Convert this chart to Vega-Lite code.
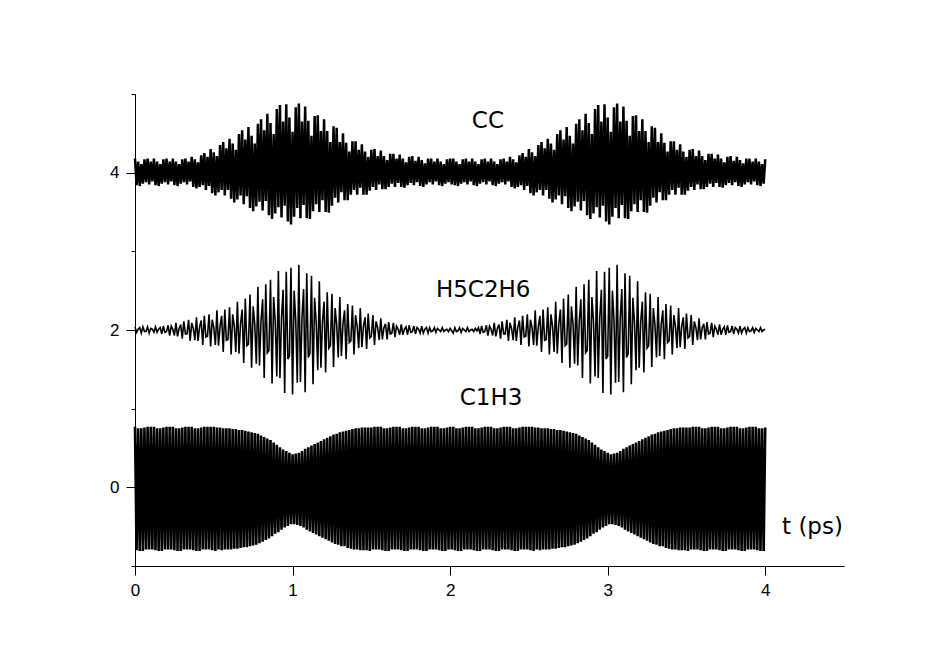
{
"$schema": "https://vega.github.io/schema/vega-lite/v6.json",
"width": 709, "height": 472,
"autosize": {"type": "none"},
"padding": {"left": 135, "top": 94, "right": 87, "bottom": 101},
"background": "white",
"config": {"view": {"stroke": null}, "axis": {"domainColor": "black", "tickColor": "black", "labelColor": "black", "grid": false, "labelFont": "Liberation Sans", "labelFontSize": 17, "title": null, "domainWidth": 1, "tickWidth": 1}},
"datasets": {
"a": [
{"t":0,"cc":4.18,"c":0.77,"h":2.04},{"t":0.01,"cc":3.84,"c":-0.80,"h":1.97},{"t":0.02,"cc":4.14,"c":0.75,"h":2.01},{"t":0.03,"cc":3.83,"c":-0.81,"h":2.03},{"t":0.04,"cc":4.11,"c":0.75,"h":1.96},{"t":0.05,"cc":3.86,"c":-0.81,"h":2.04},{"t":0.06,"cc":4.17,"c":0.76,"h":1.98},{"t":0.07,"cc":3.88,"c":-0.79,"h":1.98},{"t":0.08,"cc":4.18,"c":0.77,"h":2.04},{"t":0.09,"cc":3.85,"c":-0.79,"h":1.96},{"t":0.1,"cc":4.14,"c":0.77,"h":2.02},{"t":0.11,"cc":3.89,"c":-0.79,"h":2.01},
{"t":0.12,"cc":4.18,"c":0.77,"h":1.97},{"t":0.13,"cc":3.84,"c":-0.80,"h":2.04},{"t":0.14,"cc":4.14,"c":0.75,"h":1.97},{"t":0.15,"cc":3.83,"c":-0.81,"h":2.01},{"t":0.16,"cc":4.11,"c":0.75,"h":2.03},{"t":0.17,"cc":3.86,"c":-0.81,"h":1.95},{"t":0.18,"cc":4.17,"c":0.76,"h":2.05},{"t":0.19,"cc":3.88,"c":-0.79,"h":1.97},{"t":0.2,"cc":4.18,"c":0.77,"h":1.98},{"t":0.21,"cc":3.85,"c":-0.79,"h":2.06},{"t":0.22,"cc":4.14,"c":0.77,"h":1.93},{"t":0.23,"cc":3.89,"c":-0.79,"h":2.05},
{"t":0.24,"cc":4.18,"c":0.77,"h":2.01},{"t":0.25,"cc":3.84,"c":-0.80,"h":1.93},{"t":0.26,"cc":4.14,"c":0.75,"h":2.09},{"t":0.27,"cc":3.83,"c":-0.81,"h":1.92},{"t":0.28,"cc":4.11,"c":0.75,"h":2.02},{"t":0.29,"cc":3.86,"c":-0.81,"h":2.07},{"t":0.3,"cc":4.17,"c":0.76,"h":1.89},{"t":0.31,"cc":3.88,"c":-0.79,"h":2.11},{"t":0.32,"cc":4.18,"c":0.77,"h":1.95},{"t":0.33,"cc":3.85,"c":-0.79,"h":1.95},{"t":0.34,"cc":4.14,"c":0.77,"h":2.13},{"t":0.35,"cc":3.89,"c":-0.79,"h":1.86},
{"t":0.36,"cc":4.20,"c":0.77,"h":2.09},{"t":0.37,"cc":3.82,"c":-0.80,"h":2.02},{"t":0.38,"cc":4.17,"c":0.75,"h":1.87},{"t":0.39,"cc":3.80,"c":-0.81,"h":2.16},{"t":0.4,"cc":4.13,"c":0.75,"h":1.86},{"t":0.41,"cc":3.82,"c":-0.81,"h":2.04},{"t":0.42,"cc":4.22,"c":0.76,"h":2.12},{"t":0.43,"cc":3.84,"c":-0.79,"h":1.81},{"t":0.44,"cc":4.25,"c":0.77,"h":2.18},{"t":0.45,"cc":3.78,"c":-0.79,"h":1.91},{"t":0.46,"cc":4.20,"c":0.77,"h":1.92},{"t":0.47,"cc":3.83,"c":-0.79,"h":2.20},
{"t":0.48,"cc":4.30,"c":0.77,"h":1.79},{"t":0.49,"cc":3.74,"c":-0.80,"h":2.13},{"t":0.5,"cc":4.26,"c":0.77,"h":2.03},{"t":0.51,"cc":3.71,"c":-0.81,"h":1.81},{"t":0.52,"cc":4.21,"c":0.76,"h":2.25},{"t":0.53,"cc":3.75,"c":-0.79,"h":1.80},{"t":0.54,"cc":4.35,"c":0.76,"h":2.05},{"t":0.55,"cc":3.78,"c":-0.80,"h":2.18},{"t":0.56,"cc":4.39,"c":0.75,"h":1.72},{"t":0.57,"cc":3.71,"c":-0.79,"h":2.26},{"t":0.58,"cc":4.31,"c":0.75,"h":1.87},{"t":0.59,"cc":3.78,"c":-0.79,"h":1.88},
{"t":0.6,"cc":4.43,"c":0.75,"h":2.29},{"t":0.61,"cc":3.67,"c":-0.79,"h":1.69},{"t":0.62,"cc":4.37,"c":0.74,"h":2.20},{"t":0.63,"cc":3.62,"c":-0.78,"h":2.05},{"t":0.64,"cc":4.29,"c":0.74,"h":1.72},{"t":0.65,"cc":3.66,"c":-0.78,"h":2.36},{"t":0.66,"cc":4.49,"c":0.73,"h":1.70},{"t":0.67,"cc":3.71,"c":-0.77,"h":2.08},{"t":0.68,"cc":4.54,"c":0.73,"h":2.26},{"t":0.69,"cc":3.60,"c":-0.76,"h":1.58},{"t":0.7,"cc":4.42,"c":0.72,"h":2.40},{"t":0.71,"cc":3.70,"c":-0.76,"h":1.80},
{"t":0.72,"cc":4.58,"c":0.71,"h":1.82},{"t":0.73,"cc":3.55,"c":-0.75,"h":2.45},{"t":0.74,"cc":4.47,"c":0.70,"h":1.52},{"t":0.75,"cc":3.51,"c":-0.74,"h":2.30},{"t":0.76,"cc":4.37,"c":0.69,"h":2.08},{"t":0.77,"cc":3.57,"c":-0.73,"h":1.57},{"t":0.78,"cc":4.62,"c":0.68,"h":2.55},{"t":0.79,"cc":3.63,"c":-0.71,"h":1.55},{"t":0.8,"cc":4.68,"c":0.66,"h":2.12},{"t":0.81,"cc":3.52,"c":-0.69,"h":2.39},{"t":0.82,"cc":4.54,"c":0.64,"h":1.39},{"t":0.83,"cc":3.64,"c":-0.67,"h":2.58},
{"t":0.84,"cc":4.75,"c":0.62,"h":1.71},{"t":0.85,"cc":3.46,"c":-0.65,"h":1.74},{"t":0.86,"cc":4.63,"c":0.60,"h":2.64},{"t":0.87,"cc":3.41,"c":-0.62,"h":1.32},{"t":0.88,"cc":4.49,"c":0.57,"h":2.42},{"t":0.89,"cc":3.48,"c":-0.59,"h":2.11},{"t":0.9,"cc":4.81,"c":0.54,"h":1.41},{"t":0.91,"cc":3.56,"c":-0.57,"h":2.75},{"t":0.92,"cc":4.86,"c":0.51,"h":1.39},{"t":0.93,"cc":3.43,"c":-0.54,"h":2.16},{"t":0.94,"cc":4.65,"c":0.48,"h":2.51},{"t":0.95,"cc":3.58,"c":-0.51,"h":1.20},
{"t":0.96,"cc":4.87,"c":0.46,"h":2.74},{"t":0.97,"cc":3.38,"c":-0.49,"h":1.63},{"t":0.98,"cc":4.70,"c":0.44,"h":1.67},{"t":0.99,"cc":3.34,"c":-0.47,"h":2.79},{"t":1,"cc":4.52,"c":0.42,"h":1.18},{"t":1.01,"cc":3.44,"c":-0.47,"h":2.50},{"t":1.02,"cc":4.83,"c":0.43,"h":2.13},{"t":1.03,"cc":3.55,"c":-0.48,"h":1.33},{"t":1.04,"cc":4.88,"c":0.44,"h":2.83},{"t":1.05,"cc":3.42,"c":-0.49,"h":1.34},{"t":1.06,"cc":4.65,"c":0.46,"h":2.16},{"t":1.07,"cc":3.59,"c":-0.51,"h":2.52},
{"t":1.08,"cc":4.84,"c":0.49,"h":1.21},{"t":1.09,"cc":3.42,"c":-0.54,"h":2.72},{"t":1.1,"cc":4.66,"c":0.51,"h":1.65},{"t":1.11,"cc":3.41,"c":-0.56,"h":1.70},{"t":1.12,"cc":4.47,"c":0.53,"h":2.69},{"t":1.13,"cc":3.51,"c":-0.58,"h":1.31},{"t":1.14,"cc":4.72,"c":0.55,"h":2.41},{"t":1.15,"cc":3.60,"c":-0.60,"h":2.10},{"t":1.16,"cc":4.73,"c":0.57,"h":1.49},{"t":1.17,"cc":3.50,"c":-0.62,"h":2.62},{"t":1.18,"cc":4.53,"c":0.59,"h":1.52},{"t":1.19,"cc":3.65,"c":-0.64,"h":2.11},
{"t":1.2,"cc":4.68,"c":0.61,"h":2.36},{"t":1.21,"cc":3.50,"c":-0.66,"h":1.46},{"t":1.22,"cc":4.53,"c":0.63,"h":2.48},{"t":1.23,"cc":3.49,"c":-0.68,"h":1.77},{"t":1.24,"cc":4.39,"c":0.65,"h":1.80},{"t":1.25,"cc":3.58,"c":-0.70,"h":2.46},{"t":1.26,"cc":4.59,"c":0.67,"h":1.53},{"t":1.27,"cc":3.68,"c":-0.72,"h":2.28},{"t":1.28,"cc":4.57,"c":0.68,"h":2.07},{"t":1.29,"cc":3.62,"c":-0.73,"h":1.65},{"t":1.3,"cc":4.39,"c":0.70,"h":2.42},{"t":1.31,"cc":3.75,"c":-0.75,"h":1.67},
{"t":1.32,"cc":4.50,"c":0.71,"h":2.08},{"t":1.33,"cc":3.65,"c":-0.75,"h":2.25},{"t":1.34,"cc":4.38,"c":0.72,"h":1.63},{"t":1.35,"cc":3.65,"c":-0.77,"h":2.33},{"t":1.36,"cc":4.27,"c":0.73,"h":1.84},{"t":1.37,"cc":3.72,"c":-0.78,"h":1.86},{"t":1.38,"cc":4.40,"c":0.74,"h":2.31},{"t":1.39,"cc":3.78,"c":-0.79,"h":1.69},{"t":1.4,"cc":4.40,"c":0.75,"h":2.19},{"t":1.41,"cc":3.72,"c":-0.79,"h":2.05},{"t":1.42,"cc":4.29,"c":0.75,"h":1.77},{"t":1.43,"cc":3.81,"c":-0.80,"h":2.28},
{"t":1.44,"cc":4.36,"c":0.76,"h":1.78},{"t":1.45,"cc":3.72,"c":-0.80,"h":2.05},{"t":1.46,"cc":4.27,"c":0.76,"h":2.16},{"t":1.47,"cc":3.72,"c":-0.80,"h":1.76},{"t":1.48,"cc":4.20,"c":0.76,"h":2.21},{"t":1.49,"cc":3.77,"c":-0.81,"h":1.90},{"t":1.5,"cc":4.29,"c":0.76,"h":1.92},{"t":1.51,"cc":3.82,"c":-0.79,"h":2.19},{"t":1.52,"cc":4.30,"c":0.77,"h":1.81},{"t":1.53,"cc":3.78,"c":-0.79,"h":2.11},{"t":1.54,"cc":4.21,"c":0.77,"h":2.03},{"t":1.55,"cc":3.85,"c":-0.79,"h":1.87},
{"t":1.56,"cc":4.28,"c":0.77,"h":2.15},{"t":1.57,"cc":3.79,"c":-0.80,"h":1.88},{"t":1.58,"cc":4.21,"c":0.75,"h":2.03},{"t":1.59,"cc":3.79,"c":-0.81,"h":2.08},{"t":1.6,"cc":4.16,"c":0.75,"h":1.88},{"t":1.61,"cc":3.82,"c":-0.81,"h":2.10},{"t":1.62,"cc":4.24,"c":0.76,"h":1.95},{"t":1.63,"cc":3.86,"c":-0.79,"h":1.96},{"t":1.64,"cc":4.24,"c":0.77,"h":2.09},{"t":1.65,"cc":3.82,"c":-0.79,"h":1.91},{"t":1.66,"cc":4.18,"c":0.77,"h":2.05},{"t":1.67,"cc":3.87,"c":-0.79,"h":2.01},
{"t":1.68,"cc":4.23,"c":0.77,"h":1.94},{"t":1.69,"cc":3.82,"c":-0.80,"h":2.07},{"t":1.7,"cc":4.18,"c":0.75,"h":1.94},{"t":1.71,"cc":3.81,"c":-0.81,"h":2.01},{"t":1.72,"cc":4.13,"c":0.75,"h":2.04},{"t":1.73,"cc":3.84,"c":-0.81,"h":1.94},{"t":1.74,"cc":4.20,"c":0.76,"h":2.06},{"t":1.75,"cc":3.87,"c":-0.79,"h":1.97},{"t":1.76,"cc":4.21,"c":0.77,"h":1.98},{"t":1.77,"cc":3.84,"c":-0.79,"h":2.05},{"t":1.78,"cc":4.15,"c":0.77,"h":1.95},{"t":1.79,"cc":3.88,"c":-0.79,"h":2.03},
{"t":1.8,"cc":4.20,"c":0.77,"h":2.01},{"t":1.81,"cc":3.83,"c":-0.80,"h":1.96},{"t":1.82,"cc":4.16,"c":0.75,"h":2.05},{"t":1.83,"cc":3.82,"c":-0.81,"h":1.96},{"t":1.84,"cc":4.12,"c":0.75,"h":2.01},{"t":1.85,"cc":3.85,"c":-0.81,"h":2.03},{"t":1.86,"cc":4.18,"c":0.76,"h":1.96},{"t":1.87,"cc":3.88,"c":-0.79,"h":2.03},{"t":1.88,"cc":4.18,"c":0.77,"h":1.98},{"t":1.89,"cc":3.85,"c":-0.79,"h":1.99},{"t":1.9,"cc":4.14,"c":0.77,"h":2.03},{"t":1.91,"cc":3.89,"c":-0.79,"h":1.97},
{"t":1.92,"cc":4.18,"c":0.77,"h":2.02},{"t":1.93,"cc":3.84,"c":-0.80,"h":2.00},{"t":1.94,"cc":4.14,"c":0.75,"h":1.98},{"t":1.95,"cc":3.83,"c":-0.81,"h":2.03},{"t":1.96,"cc":4.11,"c":0.75,"h":1.98},{"t":1.97,"cc":3.86,"c":-0.81,"h":2.00},{"t":1.98,"cc":4.17,"c":0.76,"h":2.01},{"t":1.99,"cc":3.88,"c":-0.79,"h":1.98},{"t":2,"cc":4.18,"c":0.77,"h":2.02},{"t":2.01,"cc":3.85,"c":-0.79,"h":1.99},
{"t":2.02,"cc":4.18,"c":0.77,"h":1.96},{"t":2.03,"cc":3.84,"c":-0.80,"h":2.03},{"t":2.04,"cc":4.14,"c":0.75,"h":1.98},{"t":2.05,"cc":3.83,"c":-0.81,"h":1.99},{"t":2.06,"cc":4.11,"c":0.75,"h":2.03},{"t":2.07,"cc":3.86,"c":-0.81,"h":1.97},{"t":2.08,"cc":4.17,"c":0.76,"h":2.02},{"t":2.09,"cc":3.88,"c":-0.79,"h":2.00},{"t":2.1,"cc":4.18,"c":0.77,"h":1.98},{"t":2.11,"cc":3.85,"c":-0.79,"h":2.03},{"t":2.12,"cc":4.14,"c":0.77,"h":1.98},{"t":2.13,"cc":3.89,"c":-0.79,"h":2.00},
{"t":2.14,"cc":4.18,"c":0.77,"h":2.01},{"t":2.15,"cc":3.84,"c":-0.80,"h":1.98},{"t":2.16,"cc":4.14,"c":0.75,"h":2.02},{"t":2.17,"cc":3.83,"c":-0.81,"h":1.99},{"t":2.18,"cc":4.11,"c":0.75,"h":2.03},{"t":2.19,"cc":3.86,"c":-0.81,"h":1.95},{"t":2.2,"cc":4.17,"c":0.76,"h":2.05},{"t":2.21,"cc":3.88,"c":-0.79,"h":1.97},{"t":2.22,"cc":4.18,"c":0.77,"h":1.98},{"t":2.23,"cc":3.85,"c":-0.79,"h":2.06},{"t":2.24,"cc":4.14,"c":0.77,"h":1.93},{"t":2.25,"cc":3.89,"c":-0.79,"h":2.05},
{"t":2.26,"cc":4.18,"c":0.77,"h":2.01},{"t":2.27,"cc":3.84,"c":-0.80,"h":1.93},{"t":2.28,"cc":4.14,"c":0.75,"h":2.09},{"t":2.29,"cc":3.83,"c":-0.81,"h":1.92},{"t":2.3,"cc":4.11,"c":0.75,"h":2.02},{"t":2.31,"cc":3.86,"c":-0.81,"h":2.07},{"t":2.32,"cc":4.17,"c":0.76,"h":1.89},{"t":2.33,"cc":3.88,"c":-0.79,"h":2.11},{"t":2.34,"cc":4.18,"c":0.77,"h":1.95},{"t":2.35,"cc":3.85,"c":-0.79,"h":1.95},{"t":2.36,"cc":4.14,"c":0.77,"h":2.13},{"t":2.37,"cc":3.89,"c":-0.79,"h":1.86},
{"t":2.38,"cc":4.20,"c":0.77,"h":2.09},{"t":2.39,"cc":3.82,"c":-0.80,"h":2.02},{"t":2.4,"cc":4.17,"c":0.75,"h":1.87},{"t":2.41,"cc":3.80,"c":-0.81,"h":2.16},{"t":2.42,"cc":4.13,"c":0.75,"h":1.86},{"t":2.43,"cc":3.82,"c":-0.81,"h":2.04},{"t":2.44,"cc":4.22,"c":0.76,"h":2.12},{"t":2.45,"cc":3.84,"c":-0.79,"h":1.81},{"t":2.46,"cc":4.25,"c":0.77,"h":2.18},{"t":2.47,"cc":3.78,"c":-0.79,"h":1.91},{"t":2.48,"cc":4.20,"c":0.77,"h":1.92},{"t":2.49,"cc":3.83,"c":-0.79,"h":2.20},
{"t":2.5,"cc":4.30,"c":0.77,"h":1.79},{"t":2.51,"cc":3.74,"c":-0.80,"h":2.13},{"t":2.52,"cc":4.26,"c":0.77,"h":2.03},{"t":2.53,"cc":3.71,"c":-0.81,"h":1.81},{"t":2.54,"cc":4.21,"c":0.76,"h":2.25},{"t":2.55,"cc":3.75,"c":-0.79,"h":1.80},{"t":2.56,"cc":4.35,"c":0.76,"h":2.05},{"t":2.57,"cc":3.78,"c":-0.80,"h":2.18},{"t":2.58,"cc":4.39,"c":0.75,"h":1.72},{"t":2.59,"cc":3.71,"c":-0.79,"h":2.26},{"t":2.6,"cc":4.31,"c":0.75,"h":1.87},{"t":2.61,"cc":3.78,"c":-0.79,"h":1.88},
{"t":2.62,"cc":4.43,"c":0.75,"h":2.29},{"t":2.63,"cc":3.67,"c":-0.79,"h":1.69},{"t":2.64,"cc":4.37,"c":0.74,"h":2.20},{"t":2.65,"cc":3.62,"c":-0.78,"h":2.05},{"t":2.66,"cc":4.29,"c":0.74,"h":1.72},{"t":2.67,"cc":3.66,"c":-0.78,"h":2.36},{"t":2.68,"cc":4.49,"c":0.73,"h":1.70},{"t":2.69,"cc":3.71,"c":-0.77,"h":2.08},{"t":2.7,"cc":4.54,"c":0.73,"h":2.26},{"t":2.71,"cc":3.60,"c":-0.76,"h":1.58},{"t":2.72,"cc":4.42,"c":0.72,"h":2.40},{"t":2.73,"cc":3.70,"c":-0.76,"h":1.80},
{"t":2.74,"cc":4.58,"c":0.71,"h":1.82},{"t":2.75,"cc":3.55,"c":-0.75,"h":2.45},{"t":2.76,"cc":4.47,"c":0.70,"h":1.52},{"t":2.77,"cc":3.51,"c":-0.74,"h":2.30},{"t":2.78,"cc":4.37,"c":0.69,"h":2.08},{"t":2.79,"cc":3.57,"c":-0.73,"h":1.57},{"t":2.8,"cc":4.62,"c":0.68,"h":2.55},{"t":2.81,"cc":3.63,"c":-0.71,"h":1.55},{"t":2.82,"cc":4.68,"c":0.66,"h":2.12},{"t":2.83,"cc":3.52,"c":-0.69,"h":2.39},{"t":2.84,"cc":4.54,"c":0.64,"h":1.39},{"t":2.85,"cc":3.64,"c":-0.67,"h":2.58},
{"t":2.86,"cc":4.75,"c":0.62,"h":1.71},{"t":2.87,"cc":3.46,"c":-0.65,"h":1.74},{"t":2.88,"cc":4.63,"c":0.60,"h":2.64},{"t":2.89,"cc":3.41,"c":-0.62,"h":1.32},{"t":2.9,"cc":4.49,"c":0.57,"h":2.42},{"t":2.91,"cc":3.48,"c":-0.59,"h":2.11},{"t":2.92,"cc":4.81,"c":0.54,"h":1.41},{"t":2.93,"cc":3.56,"c":-0.57,"h":2.75},{"t":2.94,"cc":4.86,"c":0.51,"h":1.39},{"t":2.95,"cc":3.43,"c":-0.54,"h":2.16},{"t":2.96,"cc":4.65,"c":0.48,"h":2.51},{"t":2.97,"cc":3.58,"c":-0.51,"h":1.20},
{"t":2.98,"cc":4.87,"c":0.46,"h":2.74},{"t":2.99,"cc":3.38,"c":-0.49,"h":1.63},{"t":3,"cc":4.70,"c":0.44,"h":1.67},{"t":3.01,"cc":3.34,"c":-0.47,"h":2.79},{"t":3.02,"cc":4.52,"c":0.42,"h":1.18},{"t":3.03,"cc":3.44,"c":-0.47,"h":2.50},{"t":3.04,"cc":4.83,"c":0.43,"h":2.13},{"t":3.05,"cc":3.55,"c":-0.48,"h":1.33},{"t":3.06,"cc":4.88,"c":0.44,"h":2.83},{"t":3.07,"cc":3.42,"c":-0.49,"h":1.34},{"t":3.08,"cc":4.65,"c":0.46,"h":2.16},{"t":3.09,"cc":3.59,"c":-0.51,"h":2.52},
{"t":3.1,"cc":4.84,"c":0.49,"h":1.21},{"t":3.11,"cc":3.42,"c":-0.54,"h":2.72},{"t":3.12,"cc":4.66,"c":0.51,"h":1.65},{"t":3.13,"cc":3.41,"c":-0.56,"h":1.70},{"t":3.14,"cc":4.47,"c":0.53,"h":2.69},{"t":3.15,"cc":3.51,"c":-0.58,"h":1.31},{"t":3.16,"cc":4.72,"c":0.55,"h":2.41},{"t":3.17,"cc":3.60,"c":-0.60,"h":2.10},{"t":3.18,"cc":4.73,"c":0.57,"h":1.49},{"t":3.19,"cc":3.50,"c":-0.62,"h":2.62},{"t":3.2,"cc":4.53,"c":0.59,"h":1.52},{"t":3.21,"cc":3.65,"c":-0.64,"h":2.11},
{"t":3.22,"cc":4.68,"c":0.61,"h":2.36},{"t":3.23,"cc":3.50,"c":-0.66,"h":1.46},{"t":3.24,"cc":4.53,"c":0.63,"h":2.48},{"t":3.25,"cc":3.49,"c":-0.68,"h":1.77},{"t":3.26,"cc":4.39,"c":0.65,"h":1.80},{"t":3.27,"cc":3.58,"c":-0.70,"h":2.46},{"t":3.28,"cc":4.59,"c":0.67,"h":1.53},{"t":3.29,"cc":3.68,"c":-0.72,"h":2.28},{"t":3.3,"cc":4.57,"c":0.68,"h":2.07},{"t":3.31,"cc":3.62,"c":-0.73,"h":1.65},{"t":3.32,"cc":4.39,"c":0.70,"h":2.42},{"t":3.33,"cc":3.75,"c":-0.75,"h":1.67},
{"t":3.34,"cc":4.50,"c":0.71,"h":2.08},{"t":3.35,"cc":3.65,"c":-0.75,"h":2.25},{"t":3.36,"cc":4.38,"c":0.72,"h":1.63},{"t":3.37,"cc":3.65,"c":-0.77,"h":2.33},{"t":3.38,"cc":4.27,"c":0.73,"h":1.84},{"t":3.39,"cc":3.72,"c":-0.78,"h":1.86},{"t":3.4,"cc":4.40,"c":0.74,"h":2.31},{"t":3.41,"cc":3.78,"c":-0.79,"h":1.69},{"t":3.42,"cc":4.40,"c":0.75,"h":2.19},{"t":3.43,"cc":3.72,"c":-0.79,"h":2.05},{"t":3.44,"cc":4.29,"c":0.75,"h":1.77},{"t":3.45,"cc":3.81,"c":-0.80,"h":2.28},
{"t":3.46,"cc":4.36,"c":0.76,"h":1.78},{"t":3.47,"cc":3.72,"c":-0.80,"h":2.05},{"t":3.48,"cc":4.27,"c":0.76,"h":2.16},{"t":3.49,"cc":3.72,"c":-0.80,"h":1.76},{"t":3.5,"cc":4.20,"c":0.76,"h":2.21},{"t":3.51,"cc":3.77,"c":-0.81,"h":1.90},{"t":3.52,"cc":4.29,"c":0.76,"h":1.92},{"t":3.53,"cc":3.82,"c":-0.79,"h":2.19},{"t":3.54,"cc":4.30,"c":0.77,"h":1.81},{"t":3.55,"cc":3.78,"c":-0.79,"h":2.11},{"t":3.56,"cc":4.21,"c":0.77,"h":2.03},{"t":3.57,"cc":3.85,"c":-0.79,"h":1.87},
{"t":3.58,"cc":4.28,"c":0.77,"h":2.15},{"t":3.59,"cc":3.79,"c":-0.80,"h":1.88},{"t":3.6,"cc":4.21,"c":0.75,"h":2.03},{"t":3.61,"cc":3.79,"c":-0.81,"h":2.08},{"t":3.62,"cc":4.16,"c":0.75,"h":1.88},{"t":3.63,"cc":3.82,"c":-0.81,"h":2.10},{"t":3.64,"cc":4.24,"c":0.76,"h":1.95},{"t":3.65,"cc":3.86,"c":-0.79,"h":1.96},{"t":3.66,"cc":4.24,"c":0.77,"h":2.09},{"t":3.67,"cc":3.82,"c":-0.79,"h":1.91},{"t":3.68,"cc":4.18,"c":0.77,"h":2.05},{"t":3.69,"cc":3.87,"c":-0.79,"h":2.01},
{"t":3.7,"cc":4.23,"c":0.77,"h":1.94},{"t":3.71,"cc":3.82,"c":-0.80,"h":2.07},{"t":3.72,"cc":4.18,"c":0.75,"h":1.94},{"t":3.73,"cc":3.81,"c":-0.81,"h":2.01},{"t":3.74,"cc":4.13,"c":0.75,"h":2.04},{"t":3.75,"cc":3.84,"c":-0.81,"h":1.94},{"t":3.76,"cc":4.20,"c":0.76,"h":2.06},{"t":3.77,"cc":3.87,"c":-0.79,"h":1.97},{"t":3.78,"cc":4.21,"c":0.77,"h":1.98},{"t":3.79,"cc":3.84,"c":-0.79,"h":2.05},{"t":3.8,"cc":4.15,"c":0.77,"h":1.95},{"t":3.81,"cc":3.88,"c":-0.79,"h":2.03},
{"t":3.82,"cc":4.20,"c":0.77,"h":2.01},{"t":3.83,"cc":3.83,"c":-0.80,"h":1.96},{"t":3.84,"cc":4.16,"c":0.75,"h":2.05},{"t":3.85,"cc":3.82,"c":-0.81,"h":1.96},{"t":3.86,"cc":4.12,"c":0.75,"h":2.01},{"t":3.87,"cc":3.85,"c":-0.81,"h":2.03},{"t":3.88,"cc":4.18,"c":0.76,"h":1.96},{"t":3.89,"cc":3.88,"c":-0.79,"h":2.03},{"t":3.9,"cc":4.18,"c":0.77,"h":1.98},{"t":3.91,"cc":3.85,"c":-0.79,"h":1.99},{"t":3.92,"cc":4.14,"c":0.77,"h":2.03},{"t":3.93,"cc":3.89,"c":-0.79,"h":1.97},
{"t":3.94,"cc":4.18,"c":0.77,"h":2.02},{"t":3.95,"cc":3.84,"c":-0.80,"h":2.00},{"t":3.96,"cc":4.14,"c":0.75,"h":1.98},{"t":3.97,"cc":3.83,"c":-0.81,"h":2.03},{"t":3.98,"cc":4.11,"c":0.75,"h":1.98},{"t":3.99,"cc":3.86,"c":-0.81,"h":2.00},{"t":4,"cc":4.17,"c":0.76,"h":2.01}
],
"labels": [
{"x":2.24,"y":4.66,"label":"CC"},
{"x":2.21,"y":2.51,"label":"H5C2H6"},
{"x":2.26,"y":1.14,"label":"C1H3"},
{"x":4.3,"y":-0.51,"label":"t (ps)"}
]
},
"layer": [
{"data": {"name": "a"}, "mark": {"type": "line", "color": "black", "strokeWidth": 2.6},
 "encoding": {
  "x": {"field": "t", "type": "quantitative", "scale": {"domain": [0, 4.5], "nice": false, "zero": false},
        "axis": {"values": [0, 0.5, 1, 1.5, 2, 2.5, 3, 3.5, 4, 4.5], "format": "d", "labelExpr": "datum.value % 1 === 0 && datum.value <= 4 ? datum.label : ''", "tickSize": {"condition": {"test": "datum.value % 1 === 0", "value": 9}, "value": 4}, "labelPadding": 7, "labelFont": "Liberation Sans", "labelFontSize": 17, "labelFlush": false, "labelOverlap": false, "title": null}},
  "y": {"field": "c", "type": "quantitative", "scale": {"domain": [-1, 5], "nice": false, "zero": false},
        "axis": {"values": [-1, 0, 1, 2, 3, 4, 5], "format": "d", "labelExpr": "datum.value % 2 === 0 && datum.value >= 0 ? datum.label : ''", "tickSize": {"condition": {"test": "datum.value % 2 === 0", "value": 9}, "value": 4}, "labelPadding": 7, "labelFont": "Liberation Sans", "labelFontSize": 17, "labelFlush": false, "labelOverlap": false, "title": null}}
 }},
{"data": {"name": "a"}, "mark": {"type": "line", "color": "black", "strokeWidth": 1.6},
 "encoding": {"x": {"field": "t", "type": "quantitative"}, "y": {"field": "h", "type": "quantitative"}}},
{"data": {"name": "a"}, "mark": {"type": "line", "color": "black", "strokeWidth": 2.5},
 "encoding": {"x": {"field": "t", "type": "quantitative"}, "y": {"field": "cc", "type": "quantitative"}}},
{"data": {"name": "labels"}, "mark": {"type": "text", "font": "DejaVu Sans", "fontSize": 23, "color": "black", "align": "center", "baseline": "middle"},
 "encoding": {"x": {"field": "x", "type": "quantitative"}, "y": {"field": "y", "type": "quantitative"}, "text": {"field": "label", "type": "nominal"}}}
]
}
